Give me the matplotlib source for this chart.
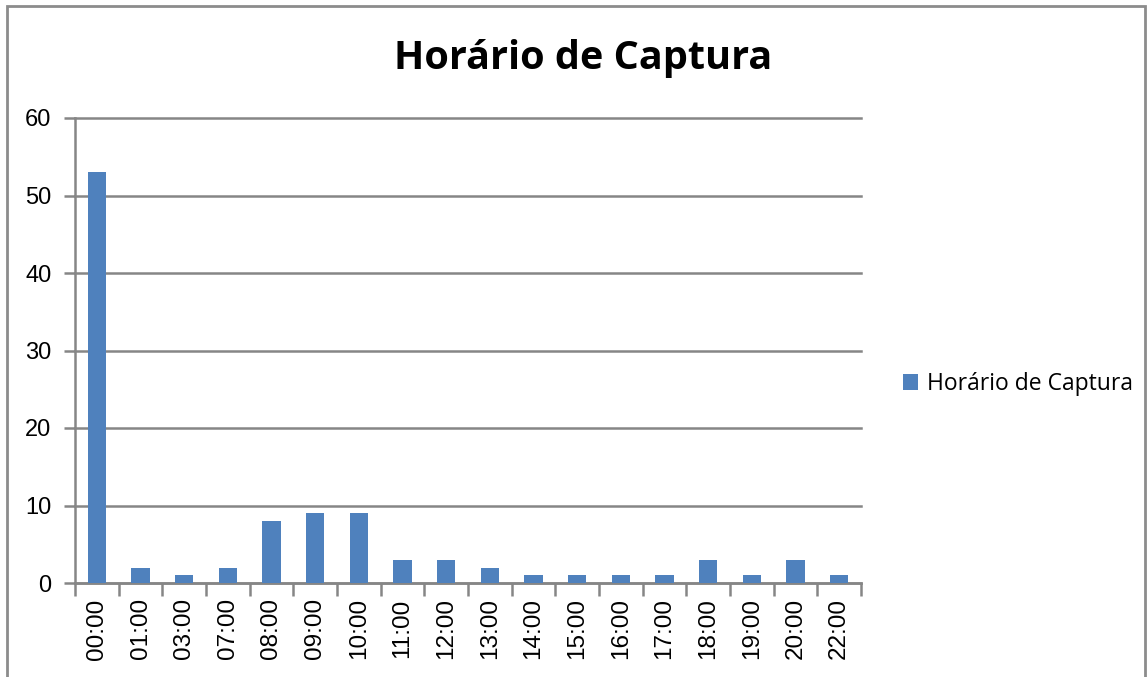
import matplotlib.pyplot as plt
import matplotlib.patches as mpatches
import numpy as np

## -----------------------------------------------------------------------------
## Horario de Captura - bar chart (Excel style)
## -----------------------------------------------------------------------------

hours = ["00:00", "01:00", "03:00", "07:00", "08:00", "09:00", "10:00", "11:00",
         "12:00", "13:00", "14:00", "15:00", "16:00", "17:00", "18:00", "19:00",
         "20:00", "22:00"]
counts = [53, 2, 1, 2, 8, 9, 9, 3, 3, 2, 1, 1, 1, 1, 3, 1, 3, 1]
series_name = "Horário de Captura"

bar_color = "#4F81BD"
grid_color = "#868686"

## -----------------------------------------------------------------------------
# figure
fig = plt.figure(figsize=(11.47, 6.77), dpi=100)
ax = fig.add_axes([75/1147, 1-583/677, (861-75)/1147, (583-118)/677])

x = np.arange(len(hours))
ax.bar(x, counts, width=0.42, color=bar_color, zorder=3, label=series_name)

ax.set_xlim(-0.5, len(hours)-0.5)
ax.set_ylim(0, 60)
ax.set_yticks(range(0, 61, 10))
ax.yaxis.grid(True, color=grid_color, linewidth=1.8, zorder=0)
ax.set_axisbelow(True)
for gl in ax.yaxis.get_gridlines():
    gl.set_clip_on(False)

ax.set_xticks(np.arange(-0.5, len(hours), 1), minor=False)
ax.set_xticklabels([])
ax.set_xticks(x, minor=True)
ax.set_xticklabels(hours, minor=True, rotation=90, fontsize=17.5, family="Liberation Sans")
ax.tick_params(axis="x", which="major", length=9, width=1.8, color=grid_color, direction="out")
ax.tick_params(axis="x", which="minor", length=0, pad=11)
ax.tick_params(axis="y", length=8, width=1.8, color=grid_color, labelsize=17, pad=9)
for lab in ax.get_yticklabels():
    lab.set_family("Liberation Sans")

for s in ["top", "right"]:
    ax.spines[s].set_visible(False)
for s in ["left", "bottom"]:
    ax.spines[s].set_color(grid_color)
    ax.spines[s].set_linewidth(1.8)

fig.text(583/1147, 1-59/677, "Horário de Captura", ha="center", va="center",
         fontsize=28.5, fontweight="bold", family="Open Sans")

leg = fig.legend(loc="center left", bbox_to_anchor=(903/1147, 1-384/677), frameon=False,
                 prop={"family": "Open Sans", "size": 16.5}, handlelength=0.65,
                 handleheight=0.65, handletextpad=0.4, borderpad=0, borderaxespad=0)

# outer chart border
border = mpatches.Rectangle((7/1147, -0.05), (1145-7)/1147, 1.05-6/677, transform=fig.transFigure,
                            fill=False, edgecolor="#8C8C8C", linewidth=2)
fig.add_artist(border)

plt.savefig("out.png", dpi=100)
